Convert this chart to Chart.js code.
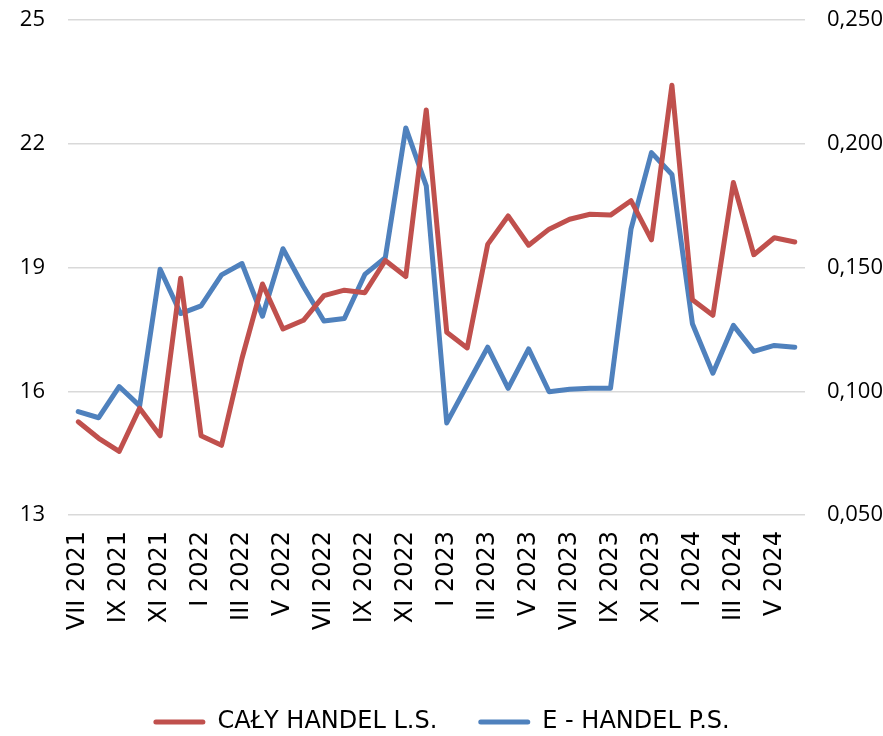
<!DOCTYPE html>
<html lang="pl">
<head>
    <meta charset="UTF-8">
    <title>Handel</title>
    <script src="https://cdn.jsdelivr.net/npm/chart.js"></script>
    <style>
        body { margin: 0; background: #fff; }
    </style>
</head>
<body>
    <canvas id="myChart" width="883" height="736"></canvas>

    <script>
        const months = [
            'VII 2021', 'VIII 2021', 'IX 2021', 'X 2021', 'XI 2021', 'XII 2021',
            'I 2022', 'II 2022', 'III 2022', 'IV 2022', 'V 2022', 'VI 2022',
            'VII 2022', 'VIII 2022', 'IX 2022', 'X 2022', 'XI 2022', 'XII 2022',
            'I 2023', 'II 2023', 'III 2023', 'IV 2023', 'V 2023', 'VI 2023',
            'VII 2023', 'VIII 2023', 'IX 2023', 'X 2023', 'XI 2023', 'XII 2023',
            'I 2024', 'II 2024', 'III 2024', 'IV 2024', 'V 2024', 'VI 2024'
        ];

        // left axis
        const calyHandel = [
            15.26, 14.86, 14.54, 15.59, 14.92, 18.74,
            14.92, 14.69, 16.80, 18.60, 17.51, 17.72,
            18.32, 18.45, 18.39, 19.17, 18.78, 22.82,
            17.43, 17.05, 19.56, 20.25, 19.54, 19.93,
            20.17, 20.29, 20.27, 20.62, 19.67, 23.42,
            18.22, 17.84, 21.06, 19.31, 19.72, 19.62
        ];

        // right axis
        const eHandel = [
            0.0918, 0.0893, 0.1019, 0.0941, 0.1493, 0.1314,
            0.1345, 0.1470, 0.1516, 0.1303, 0.1576, 0.1423,
            0.1284, 0.1294, 0.1472, 0.1540, 0.2064, 0.1830,
            0.0872, 0.1026, 0.1178, 0.1012, 0.1171, 0.0998,
            0.1008, 0.1012, 0.1012, 0.1655, 0.1964, 0.1876,
            0.1273, 0.1073, 0.1266, 0.1161, 0.1185, 0.1178
        ];

        const leftTicks = [13, 16, 19, 22, 25];
        const rightTicks = [0.05, 0.10, 0.15, 0.20, 0.25];

        const RED = '#C0504D';
        const BLUE = '#4F81BD';

        const ctx = document.getElementById('myChart').getContext('2d');

        new Chart(ctx, {
            type: 'line',
            data: {
                labels: months,
                datasets: [{
                    label: 'CAŁY HANDEL L.S.',
                    data: calyHandel,
                    yAxisID: 'y',
                    borderColor: RED,
                    backgroundColor: RED,
                    borderWidth: 5,
                    pointRadius: 0,
                    tension: 0,
                    borderJoinStyle: 'round',
                    borderCapStyle: 'round'
                }, {
                    label: 'E - HANDEL P.S.',
                    data: eHandel,
                    yAxisID: 'y1',
                    borderColor: BLUE,
                    backgroundColor: BLUE,
                    borderWidth: 5,
                    pointRadius: 0,
                    tension: 0,
                    borderJoinStyle: 'round',
                    borderCapStyle: 'round'
                }]
            },
            options: {
                responsive: false,
                animation: false,
                devicePixelRatio: 1,
                layout: {
                    padding: { top: 20, left: 0, right: 0, bottom: 0 }
                },
                plugins: {
                    tooltip: { enabled: false },
                    legend: {
                        position: 'bottom',
                        maxHeight: 67,
                        labels: {
                            boxWidth: 52,
                            boxHeight: 5,
                            padding: 41,
                            color: '#000',
                            font: { family: 'DejaVu Sans', size: 24 },
                            generateLabels: function(chart) {
                                const items = Chart.defaults.plugins.legend.labels.generateLabels(chart);
                                items.forEach(item => {
                                    item.lineWidth = 0;
                                    item.borderRadius = 2.5;
                                });
                                return items;
                            }
                        }
                    }
                },
                scales: {
                    x: {
                        offset: true,
                        grid: { display: false, drawTicks: false },
                        border: { display: false },
                        ticks: {
                            autoSkip: false,
                            minRotation: 90,
                            maxRotation: 90,
                            padding: 16,
                            color: '#000',
                            font: { family: 'DejaVu Sans', size: 24 },
                            callback: function(value, index) {
                                return index % 2 === 0 ? months[index] : '';
                            }
                        },
                        afterFit: function(scale) {
                            scale.height = 154;
                            scale.paddingLeft = 0;
                            scale.paddingRight = 0;
                        }
                    },
                    y: {
                        position: 'left',
                        min: 13,
                        max: 25,
                        afterBuildTicks: function(scale) {
                            scale.ticks = leftTicks.map(v => ({ value: v }));
                        },
                        grid: { color: '#d9d9d9', lineWidth: 1.5, drawTicks: false },
                        border: { display: false },
                        ticks: {
                            padding: 23,
                            color: '#000',
                            font: { family: 'Open Sans', size: 22 }
                        },
                        afterFit: function(scale) {
                            scale.width = 68;
                            scale.paddingTop = 0;
                            scale.paddingBottom = 0;
                        }
                    },
                    y1: {
                        position: 'right',
                        min: 0.05,
                        max: 0.25,
                        afterBuildTicks: function(scale) {
                            scale.ticks = rightTicks.map(v => ({ value: v }));
                        },
                        grid: { display: false, drawTicks: false },
                        border: { display: false },
                        ticks: {
                            padding: 22,
                            color: '#000',
                            font: { family: 'Open Sans', size: 22 },
                            callback: function(value) {
                                return value.toFixed(3).replace('.', ',');
                            }
                        },
                        afterFit: function(scale) {
                            scale.width = 78;
                            scale.paddingTop = 0;
                            scale.paddingBottom = 0;
                        }
                    }
                }
            }
        });
    </script>
</body>
</html>
